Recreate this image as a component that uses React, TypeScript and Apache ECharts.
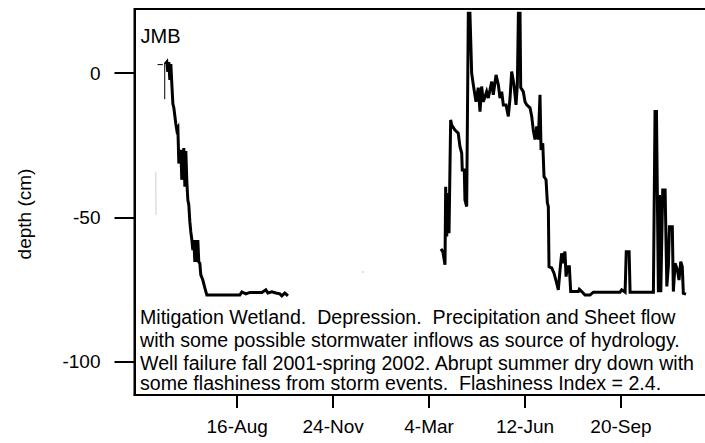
import React, { useEffect, useRef } from "react";
import * as echarts from "echarts";

// Days are counted from 16-Aug-2001.
const tickDays = [0, 100, 200, 300, 400];
const tickLabels = ["16-Aug", "24-Nov", "4-Mar", "12-Jun", "20-Sep"];
const depthTicks = [-100, -50, 0];

// Water-table depth, summer 2001 dry down
const days2001 = [
  -75, -73.3, -72.3, -71.2, -70.2, -69.1, -68.1, -67, -66, -63.9, -62.9, -61.8, -60.8, -59.8,
  -58.7, -57.7, -55.6, -54.5, -53.5, -52.4, -51.4, -50.4, -49.3, -48.3, -47.2, -46.2, -45.2,
  -44.1, -43.1, -42, -41, -40, -38.9, -37.9, -35.8, -33.7, -31.6, 2.8, 4.9, 9.1, 13.2, 25.8,
  29.9, 32, 36.2, 40.4, 44.5, 46.6, 49.7, 52.9,
];
const depth2001 = [
  3.2, 3.9, 0.5, 3.9, -2.3, 3.2, -3.7, -10.6, -12, -17.6, -19.7, -19, -31.3, -30.1, -26.6,
  -37, -26, -39.4, -27, -38, -44, -45.7, -51.6, -55.1, -57.9, -61.4, -57.9, -65.5, -57.9,
  -65.5, -57.9, -65.5, -66, -70, -71.8, -74.5, -77, -77, -75.9, -76.6, -76.1, -76.1, -75.2,
  -76.3, -75.9, -76.3, -76.6, -77.3, -76.3, -77.3,
];

// Water-table depth, spring 2002 onwards
const days2002 = [
  212.4, 214.4, 216.6, 217.3, 218.4, 219.7, 220.8, 222.5, 223.6, 227, 230.4, 232.2, 234, 234.6,
  236.7, 237.4, 239.2, 240.9, 242.6, 244.4, 246.1, 248.9, 251.3, 253.1, 254.8, 256.5, 260,
  261.7, 265.3, 266.9, 269.8, 272.2, 273.9, 275.7, 277.4, 280.2, 282.6, 284.4, 286.1, 288.5,
  290.6, 292, 293.1, 294.8, 295.5, 298.2, 300, 301.8, 305.2, 307, 308.6, 310.4, 312.2, 313.9,
  315.6, 316.7, 318.5, 319.8, 321.9, 323.3, 324.3, 325, 327.8, 330.2, 333, 334.7, 336.5, 338.2,
  339.9, 341.6, 342.8, 344.1, 346.2, 347.6, 355.6, 356.6, 359.1, 362.5, 367.7, 371.2, 399,
  400.8, 404.3, 405.5, 408.5, 409.5, 433.8, 435.5, 437, 439, 440.1, 441.5, 443.5, 446, 447.8,
  449.4, 450.5, 453.5, 454.6, 456.4, 458.8, 460.5, 462.3, 463.9, 465, 467.8,
];
const depth2002 = [
  -61, -62, -66.5, -39.4, -56.7, -41.6, -55.5, -16.2, -18, -19.7, -20.8, -25.5, -27.7, -33.6,
  -33.6, -44, -46.3, 20.8, 20.8, 0, -4, -9.9, -5, -13.3, -4.6, -9.9, -6.4, -8.6, -2.9, -7.5,
  -0.6, -4, -8.6, -6.4, -11, -11, -15, -8.6, 0.6, -4, -11, -4, 20.8, 20.8, -5, -6.4, -9.9, -11,
  -12, -15, -19.7, -23, -18.5, -23, -7.5, -26.6, -24.3, -35.9, -37, -45, -46.3, -67.2, -67.6,
  -69.4, -72.9, -75.2, -68.3, -62.5, -66, -61.9, -70.6, -67.2, -67.2, -75.8, -75.8, -75, -75.8,
  -77, -77, -76, -76, -75.2, -76, -62, -62, -76, -76, -13.3, -13.3, -76, -42.3, -76, -40.5,
  -40.5, -74, -67, -53.3, -53.3, -75.8, -66, -68.3, -71.8, -65.4, -67.2, -76.4, -76.7,
];

// Short partial records from the backup logger
const partialA = [[-83, 3], [-77.5, 3]];
const partialB = [[-75.5, 3.6], [-75.5, -9]];
const faintA = [[-84.8, -34.3], [-84.6, -49.2]];
const faintB = [[129.5, -69], [132.5, -69]];

const siteLabel = "JMB";
const noteLines = [
  "Mitigation Wetland.  Depression.  Precipitation and Sheet flow",
  "with some possible stormwater inflows as source of hydrology.",
  "Well failure fall 2001-spring 2002. Abrupt summer dry down with",
  "some flashiness from storm events.  Flashiness Index = 2.4.",
];
const noteY = [316.5, 339.7, 363, 383];

const FONT = "'Liberation Sans', Arial, Helvetica, sans-serif";

const pairs = (xs: number[], ys: number[]) => xs.map((x, i) => [x, ys[i]]);

export default function App() {
  const ref = useRef<HTMLDivElement>(null);

  useEffect(() => {
    if (!ref.current) return;
    const chart = echarts.init(ref.current, null, { renderer: "svg" });

    const lineSeries = (data: number[][], width: number, color: string) => ({
      type: "line",
      data,
      showSymbol: false,
      symbol: "none",
      lineStyle: { color, width, join: "miter" },
      clip: true,
      silent: true,
    });

    chart.setOption({
      animation: false,
      backgroundColor: "#fff",
      // plot frame runs past the right edge of the visible window
      grid: {
        left: 134.5,
        top: 9,
        right: 5,
        bottom: 48,
        show: true,
        borderColor: "#000",
        borderWidth: 2,
        backgroundColor: "transparent",
      },
      xAxis: {
        type: "value",
        min: -107,
        max: 498,
        axisLine: { show: true, onZero: false, lineStyle: { color: "#000", width: 2 } },
        axisTick: {
          show: true,
          customValues: tickDays,
          length: 13,
          lineStyle: { color: "#000", width: 2 },
        },
        axisLabel: {
          customValues: tickDays,
          formatter: (v: number) => tickLabels[tickDays.indexOf(v)] ?? "",
          margin: 22,
          fontSize: 19,
          color: "#000",
          fontFamily: FONT,
        },
        splitLine: { show: false },
      },
      yAxis: {
        type: "value",
        min: -111.7,
        max: 22.3,
        axisLine: { show: true, onZero: false, lineStyle: { color: "#000", width: 2 } },
        axisTick: {
          show: true,
          customValues: depthTicks,
          length: 20,
          lineStyle: { color: "#000", width: 2 },
        },
        axisLabel: {
          customValues: depthTicks,
          margin: 34,
          fontSize: 19,
          color: "#000",
          fontFamily: FONT,
        },
        splitLine: { show: false },
      },
      series: [
        lineSeries(faintA, 1, "#cfcfcf"),
        lineSeries(faintB, 1, "#cfcfcf"),
        lineSeries(partialA, 1, "#000"),
        lineSeries(partialB, 1, "#000"),
        lineSeries(pairs(days2001, depth2001), 3, "#000"),
        lineSeries(pairs(days2002, depth2002), 3, "#000"),
      ],
      graphic: [
        {
          type: "text",
          x: 24,
          y: 214,
          rotation: Math.PI / 2,
          style: {
            text: "depth (cm)",
            fontSize: 19,
            fontFamily: FONT,
            fill: "#000",
            align: "center",
            verticalAlign: "middle",
          },
        },
        {
          type: "text",
          x: 140.5,
          y: 36,
          style: {
            text: siteLabel,
            fontSize: 20,
            fontFamily: FONT,
            fill: "#000",
            align: "left",
            verticalAlign: "middle",
          },
        },
        ...noteLines.map((t, i) => ({
          type: "text",
          x: 140,
          y: noteY[i],
          style: {
            text: t,
            fontSize: 19.6,
            fontFamily: FONT,
            fill: "#000",
            align: "left",
            verticalAlign: "middle",
          },
        })),
      ],
    });

    return () => chart.dispose();
  }, []);

  return (
    <div
      style={{
        position: "absolute",
        left: 0,
        top: 0,
        width: 705,
        height: 443,
        overflow: "hidden",
      }}
    >
      <div ref={ref} style={{ width: 720, height: 443 }} />
    </div>
  );
}
